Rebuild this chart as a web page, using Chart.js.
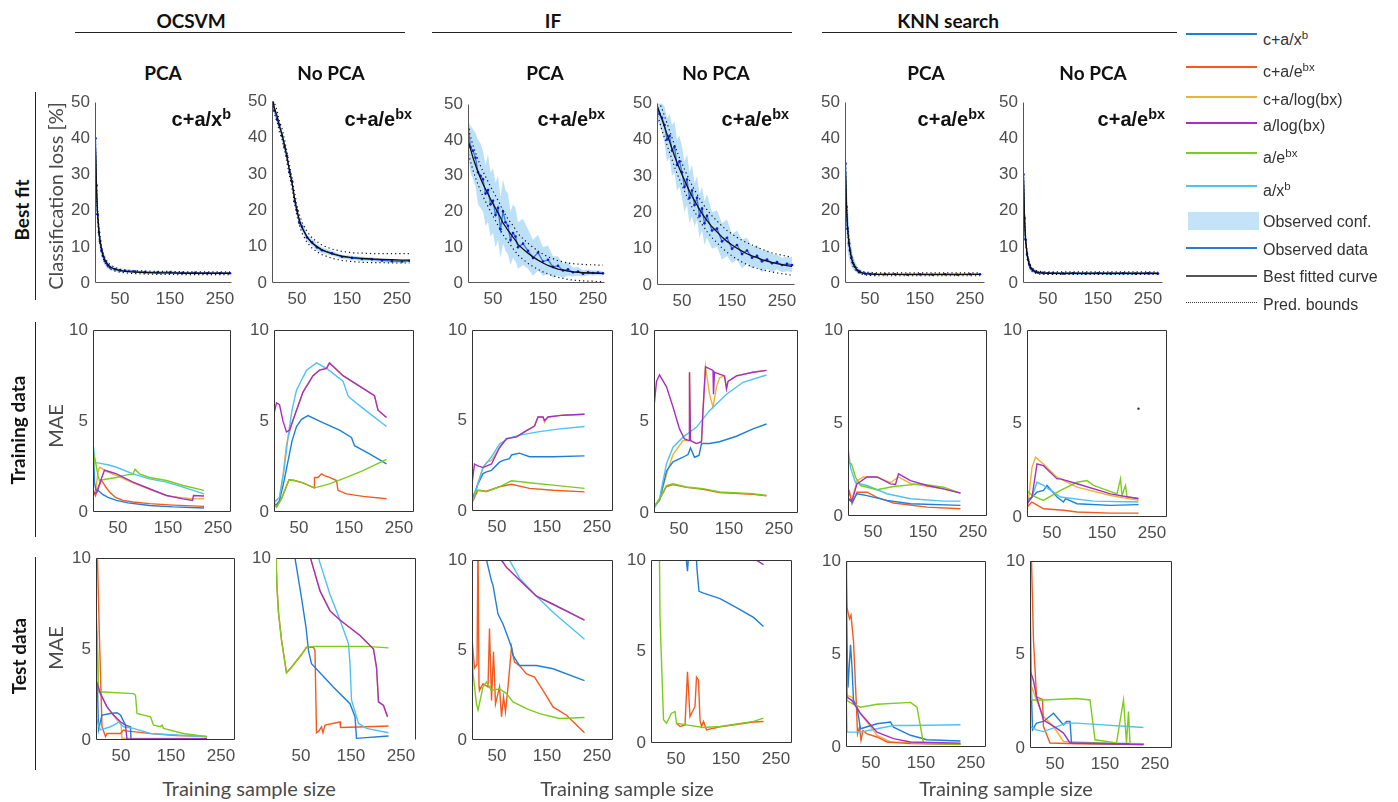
<!DOCTYPE html>
<html>
<head>
<meta charset="utf-8">
<script src="https://cdn.jsdelivr.net/npm/chart.js@4.4.1/dist/chart.umd.min.js"></script>
<style>
  body { margin: 0; background: #fff; }
  #stage { position: relative; width: 1398px; height: 802px; overflow: hidden; font-family: "Liberation Sans", Arial, sans-serif; }
  .t { position: absolute; white-space: nowrap; line-height: 1; }
  .hd { font-family: Lato, "Open Sans", sans-serif; font-weight: bold; font-size: 19px; color: #111; }
  .lab { font-family: Lato, "Open Sans", sans-serif; font-size: 20px; color: #4a4a4a; }
  .fx { font-weight: bold; font-size: 20px; color: #111; }
  .lg { font-size: 16px; color: #333; }
  sup { font-size: 0.72em; position: relative; top: -0.5em; vertical-align: 0; }
  canvas { position: absolute; }
  .rule { position: absolute; background: #222; }
</style>
</head>
<body>
<div id="stage"></div>
<script>
// ---------- series shared by every MAE panel ----------
const seriesLabels = ["c+a/x<sup>b</sup>", "c+a/e<sup>bx</sup>", "c+a/log(bx)", "a/log(bx)", "a/e<sup>bx</sup>", "a/x<sup>b</sup>"];
const seriesColors = ["#1f7fd6", "#f25a1f", "#f0b232", "#a431c4", "#7ccc1c", "#4fc2f2"];
const xTicks = [50, 150, 250];

// ---------- Best fit row: classification loss [%] ----------
const bfX1 = [1,3,5,8,10,13,16,20,25,30,40,50,60,80,100,125,150,175,200,225,250,270];
const bfX2 = [2,5,10,15,20,25,30,35,40,45,50,55,60,70,80,90,100,120,140,160,180,200,220,240,260,275];
const bfX3 = [1,5,10,15,20,25,30,35,40,45,50,55,60,65,70,75,80,85,90,95,100,110,120,130,140,150,160,170,180,190,200,210,220,230,240,250,260,270];

// OCSVM, PCA
const ocPcaObs = [40,27,19,14,11.5,9,7.5,6,5,4.3,3.8,3.5,3.4,3.2,3.0,2.9,2.9,2.8,2.8,2.7,2.7,2.7];
const ocPcaFit = [37,26,19.5,14,11.8,9.3,7.7,6.3,5.2,4.5,3.8,3.4,3.2,3.0,2.9,2.8,2.8,2.7,2.7,2.7,2.7,2.7];
const ocPcaConfLo = [36,22,15,11,9,7,6,4.8,4,3.5,3.2,3.0,2.9,2.8,2.6,2.5,2.5,2.5,2.4,2.4,2.4,2.4];
const ocPcaConfHi = [43,31,23,17,14,11,9,7.2,6,5.1,4.4,4.0,3.9,3.6,3.4,3.3,3.3,3.1,3.1,3.0,3.0,3.0];
const ocPcaPredLo = [35.5,24.5,18,12.8,10.7,8.4,6.9,5.6,4.6,3.9,3.3,3.0,2.8,2.6,2.5,2.4,2.4,2.3,2.3,2.3,2.3,2.3];
const ocPcaPredHi = [38.5,27.5,21,15.2,12.9,10.2,8.5,7.0,5.8,5.1,4.3,3.8,3.6,3.4,3.3,3.2,3.2,3.1,3.1,3.1,3.1,3.1];

// OCSVM, no PCA
const ocRawObs = [49.5,47.5,45,43.5,40.5,37.5,35,30.5,28,22.5,20,16.5,15.5,12.5,11.2,9.8,9.0,8.2,7.2,6.9,6.6,6.5,6.2,6.0,5.9,6.1];
const ocRawFit = [50,48,46,43,41,38,34.5,31,27.5,23.5,19.8,17.2,15.2,12.7,11,10,9.1,8.0,7.4,7.0,6.8,6.6,6.5,6.4,6.3,6.3];
const ocRawConfLo = [48.3,46.3,43.8,42.3,39.3,36.3,33.8,29.3,26.8,21.3,18.8,15.3,14.3,11.5,10.2,8.9,8.2,7.5,6.6,6.3,6.0,5.9,5.7,5.5,5.4,5.6];
const ocRawConfHi = [50.7,48.7,46.2,44.7,41.7,38.7,36.2,31.7,29.2,23.7,21.2,17.7,16.7,13.5,12.2,10.7,9.8,8.9,7.8,7.5,7.2,7.1,6.7,6.5,6.4,6.6];
const ocRawPredLo = [48.5,46.5,44.5,41.5,39.5,36.5,33,29.5,26,22,18.3,15.7,13.7,11.2,9.6,8.6,7.8,6.8,6.2,5.9,5.7,5.6,5.6,5.5,5.5,5.5];
const ocRawPredHi = [51.5,49.5,47.5,44.5,42.5,39.5,36,32.5,29,25,21.3,18.7,16.7,14.2,12.4,11.4,10.4,9.3,8.7,8.3,8.2,8.1,8.1,8.1,8.1,8.1];

// IF, PCA
const ifPcaObs = [43,38,37,35,31,30,29,25,26,22,23,19,21,15,20,17,16,12,14,13,10,11,9,7,8.5,6,6.5,4.5,4.8,3.5,3.8,3.0,3.2,2.6,3.0,2.8,2.9,2.7];
const ifPcaFit = [39.5,37.5,35,33,31,29.3,27.7,26.3,24.9,23.5,22.2,20.9,19.6,18.3,16.8,15.8,14.7,13.8,12.8,11.9,10.8,9.5,8.3,7.3,6.4,5.6,4.9,4.4,3.9,3.6,3.3,3.1,3.0,2.9,2.8,2.8,2.7,2.7];
const ifPcaConfLo = [36,31,29,27,22,21,20,16,17,13,14,10,12,7,11,9,8,5,7,6,4,5,4,2,3.5,2,2.5,1.5,2,1.5,2,1.8,2,1.8,2.2,2.1,2.2,2.1];
const ifPcaConfHi = [45,44,43,42,40,39,37,33,36,31,32,28,30,24,29,26,25,20,22,21,17,18,15,12,13.5,10,10.5,7.5,7.5,5.5,5.8,4.3,4.5,3.6,3.8,3.5,3.6,3.3];
const ifPcaPredLo = [36,34,31.5,29.5,27.5,25.8,24.2,22.8,21.4,20,18.7,17.4,16.1,14.8,13.5,12.5,11.5,10.6,9.6,8.8,7.8,6.6,5.5,4.6,3.8,3.1,2.5,2.0,1.6,1.3,1.0,0.8,0.7,0.6,0.5,0.5,0.4,0.4];
const ifPcaPredHi = [43,41,38.5,36.5,34.5,32.8,31.2,29.8,28.4,27,25.7,24.4,23.1,21.8,20.1,19.1,17.9,17,16,15,13.8,12.4,11.1,10,9,8.1,7.3,6.8,6.2,5.9,5.6,5.4,5.3,5.2,5.1,5.1,5.0,5.0];

// IF, no PCA
const ifRawObs = [48,47,46,44,40,41,37,38,33,34,31,27,29,24,26,22,24,19,21,17,19,15,15.5,12,13,10,11,8.5,9.5,7.5,8,6.5,7,6,6.3,5.5,5.8,5.5];
const ifRawFit = [49,47.5,45.5,43.5,41.5,39.5,37.5,35.5,33.7,32,30.4,28.8,27.3,25.8,24.4,23.2,22,20.8,19.7,18.7,17.7,16,14.6,13.2,12,11,10.1,9.3,8.6,8.0,7.5,7.0,6.6,6.2,5.9,5.6,5.3,5.1];
const ifRawConfLo = [45,44,42,39,34,35,30,31,26,27,24,20,22,17,19,16,18,13,15,11,13,10,10.5,7,8,6,7,4.5,6,4.5,5,3.5,4.5,3.5,4.3,3.5,3.8,3.5];
const ifRawConfHi = [50,50,50,49,46,47,44,45,40,41,38,34,36,31,33,28,30,25,27,23,25,20,20.5,17,18,14,15,12.5,13,10.5,11,9.5,9.5,8.5,8.3,7.5,7.8,7.5];
const ifRawPredLo = [46.5,45,42.5,40.5,38.5,36.5,34.5,32.5,30.7,29,27.4,25.8,24.3,22.8,21.4,20.2,19,17.8,16.7,15.7,14.7,13,11.6,10.2,9,8,7.1,6.3,5.6,5.0,4.6,4.2,3.9,3.6,3.3,3.1,2.9,2.7];
const ifRawPredHi = [51.5,50,48.5,46.5,44.5,42.5,40.5,38.5,36.7,35,33.4,31.8,30.3,28.8,27.4,26.2,25,23.8,22.7,21.7,20.7,19,17.6,16.2,15,14,13.1,12.3,11.6,11,10.4,9.8,9.3,8.8,8.5,8.2,7.9,7.6];

// KNN search, PCA
const knPcaObs = [33,21,15,11,9,7,5.5,4.5,3.5,3,2.6,2.5,2.4,2.4,2.4,2.3,2.4,2.3,2.4,2.3,2.4,2.4];
const knPcaFit = [31,21,15.5,11,9,6.8,5.4,4.3,3.5,3.0,2.6,2.5,2.4,2.4,2.4,2.4,2.4,2.4,2.4,2.4,2.4,2.4];
const knPcaConfLo = [24,13,9,6.5,5.5,4.5,3.8,3.2,2.7,2.4,2.2,2.1,2.1,2.1,2.1,2.0,2.1,2.0,2.1,2.0,2.1,2.1];
const knPcaConfHi = [40,30,23,16,13,10,7.5,6,4.5,3.7,3.1,2.9,2.8,2.7,2.7,2.6,2.7,2.6,2.7,2.6,2.7,2.7];
const knPcaPredLo = [29,19.5,14.3,10,8.1,6,4.7,3.7,3.0,2.6,2.2,2.1,2.0,2.0,2.0,2.0,2.0,2.0,2.0,2.0,2.0,2.0];
const knPcaPredHi = [33,22.5,16.7,12,9.9,7.6,6.1,4.9,4.0,3.4,3.0,2.9,2.8,2.8,2.8,2.8,2.8,2.8,2.8,2.8,2.8,2.8];

// KNN search, no PCA
const knRawObs = [30,18,12,8,6.5,5,4,3.5,3.1,2.9,2.8,2.7,2.7,2.6,2.7,2.6,2.7,2.6,2.7,2.6,2.7,2.6];
const knRawFit = [29,18,12.2,8.3,6.6,5,4.1,3.5,3.1,2.9,2.75,2.7,2.7,2.7,2.7,2.7,2.7,2.7,2.7,2.7,2.7,2.7];
const knRawConfLo = [26,15,9.5,6,5,3.8,3,2.7,2.5,2.4,2.4,2.4,2.4,2.3,2.4,2.3,2.4,2.3,2.4,2.3,2.4,2.3];
const knRawConfHi = [34,21,14.5,10,8,6.2,5,4.3,3.7,3.4,3.2,3.0,3.0,2.9,3.0,2.9,3.0,2.9,3.0,2.9,3.0,2.9];
const knRawPredLo = [27.5,17,11.3,7.5,5.9,4.4,3.6,3.0,2.7,2.5,2.4,2.35,2.35,2.35,2.35,2.35,2.35,2.35,2.35,2.35,2.35,2.35];
const knRawPredHi = [30.5,19,13.1,9.1,7.3,5.6,4.6,4.0,3.5,3.3,3.1,3.05,3.05,3.05,3.05,3.05,3.05,3.05,3.05,3.05,3.05,3.05];

// ---------- Training data row: MAE, [x, y] pairs, series in legend order ----------
const trainOcPca = [
  [[1,3.2],[3,1.6],[6,1.2],[10,1.2],[20,0.95],[30,0.8],[47,0.64],[70,0.5],[113,0.36],[160,0.28],[222,0.22]],
  [[1,1.2],[5,0.9],[10,1.3],[17,1.75],[25,1.4],[33,1.1],[45,0.8],[60,0.64],[80,0.55],[113,0.46],[160,0.38],[222,0.31]],
  [[1,0.9],[5,1.1],[10,2.2],[13,2.46],[18,2.4],[25,2.25],[47,2.0],[80,1.6],[113,1.25],[147,0.9],[180,0.78],[200,0.72],[222,0.73]],
  [[1,1.0],[8,1.1],[15,1.7],[23,2.3],[35,2.2],[47,2.1],[80,1.64],[113,1.28],[147,0.91],[180,0.72],[199,0.64],[201,0.91],[222,0.88]],
  [[1,2.4],[3,3.0],[6,2.6],[10,2.0],[13,1.73],[25,1.8],[47,1.9],[60,2.0],[80,2.1],[84,2.35],[93,2.1],[113,1.9],[147,1.73],[180,1.46],[222,1.19]],
  [[1,3.6],[3,3.0],[5,2.7],[10,2.7],[20,2.65],[30,2.6],[47,2.46],[80,2.1],[113,1.82],[147,1.64],[180,1.37],[222,1.0]]
];
const trainOcRaw = [
  [[0,0.45],[5,0.4],[11,0.64],[20,1.7],[28,2.8],[36,3.9],[45,4.7],[55,5.1],[68,5.3],[91,5.0],[131,4.5],[155,4.1],[161,3.65],[191,3.2],[225,2.65]],
  [[0,0.45],[5,0.27],[15,0.73],[30,1.77],[41,1.73],[58,1.6],[80,1.33],[81,1.9],[88,1.9],[95,2.1],[101,2.0],[111,1.9],[125,1.73],[128,1.19],[145,1.0],[178,0.86],[225,0.73]],
  [[0,0.5],[11,0.8],[18,2.0],[25,3.7],[35,4.8],[45,5.6],[58,6.6],[78,7.5],[91,7.8],[105,7.9],[111,8.2],[138,7.5],[178,6.8],[201,6.4],[208,5.6],[225,5.2]],
  [[0,5.4],[5,6.0],[11,5.9],[18,5.0],[25,4.4],[31,4.5],[45,5.6],[58,6.6],[78,7.5],[91,7.8],[105,7.9],[111,8.2],[138,7.5],[178,6.8],[201,6.4],[208,5.6],[225,5.2]],
  [[0,0.45],[5,0.27],[15,0.73],[30,1.77],[41,1.73],[58,1.6],[81,1.33],[111,1.55],[145,1.9],[178,2.28],[225,2.9]],
  [[0,0.55],[11,0.8],[20,2.3],[28,4.1],[36,5.6],[45,6.7],[65,7.8],[85,8.2],[105,7.9],[138,7.2],[148,6.4],[151,6.3],[178,5.7],[225,4.7]]
];
const trainIfPca = [
  [[0,0.6],[12,1.5],[22,2.07],[29,2.16],[39,2.25],[55,2.7],[62,2.8],[75,2.9],[79,3.1],[95,3.2],[115,3.0],[162,3.0],[225,3.05]],
  [[0,0.5],[12,1.15],[29,1.1],[55,1.34],[79,1.48],[115,1.25],[162,1.15],[225,1.06]],
  [[0,0.5],[5,0.7],[12,1.6],[22,2.4],[30,2.7],[39,2.8],[55,3.5],[69,4.0],[89,4.1],[109,4.45],[125,4.7],[132,5.2],[142,5.2],[145,4.9],[152,5.2],[182,5.3],[225,5.35]],
  [[0,1.5],[5,2.6],[12,2.5],[22,2.4],[39,2.6],[55,3.5],[69,4.0],[89,4.1],[109,4.45],[125,4.7],[132,5.2],[142,5.2],[145,5.0],[152,5.2],[182,5.3],[225,5.35]],
  [[0,0.88],[12,1.15],[29,1.06],[55,1.34],[79,1.67],[115,1.56],[162,1.43],[225,1.25]],
  [[0,0.42],[12,1.5],[22,2.4],[39,3.0],[55,3.7],[72,4.0],[95,4.2],[129,4.36],[175,4.54],[225,4.67]]
];
const trainIfRaw = [
  [[0,0.33],[11,0.7],[25,2.3],[38,2.8],[58,3.05],[68,3.2],[73,3.56],[81,3.05],[90,3.15],[95,3.8],[111,3.8],[131,3.9],[165,4.2],[198,4.6],[225,4.87]],
  [[0,0.33],[11,0.75],[25,1.45],[38,1.55],[65,1.4],[98,1.3],[131,1.12],[198,1.02],[225,0.94]],
  [[0,0.33],[11,0.7],[25,2.1],[38,3.2],[58,3.96],[70,3.96],[71,7.7],[73,3.96],[85,3.8],[95,3.9],[98,5.6],[103,8.0],[111,6.5],[118,5.8],[125,6.9],[131,7.4],[141,7.5],[145,6.8],[148,7.2],[165,7.5],[198,7.7],[225,7.8]],
  [[0,5.8],[5,7.2],[11,7.56],[25,6.9],[38,5.8],[51,4.6],[61,4.05],[70,3.96],[71,7.7],[73,3.96],[85,3.8],[95,3.9],[98,5.6],[103,8.0],[118,7.8],[119,6.5],[121,7.7],[141,7.5],[145,6.8],[148,7.2],[165,7.5],[198,7.7],[225,7.8]],
  [[0,0.33],[11,0.78],[25,1.5],[38,1.6],[65,1.42],[98,1.33],[131,1.15],[198,1.05],[225,0.96]],
  [[0,0.24],[11,0.78],[25,2.7],[38,3.6],[58,4.15],[85,4.7],[111,5.6],[145,6.5],[178,7.15],[225,7.55]]
];
const trainKnPca = [
  [[0,0.93],[8,0.75],[18,1.2],[38,1.1],[78,0.84],[125,0.66],[225,0.57]],
  [[0,1.0],[3,1.3],[8,0.66],[18,1.28],[38,1.28],[58,1.0],[91,0.7],[158,0.48],[225,0.39]],
  [[0,0.84],[8,0.84],[18,1.9],[31,2.1],[58,2.1],[85,1.8],[101,2.1],[125,1.75],[158,1.6],[191,1.46],[225,1.23]],
  [[0,0.93],[8,0.84],[18,1.73],[38,2.1],[58,2.1],[85,1.73],[95,1.7],[101,2.27],[125,1.9],[158,1.64],[191,1.46],[225,1.23]],
  [[0,2.9],[7,2.8],[15,2.1],[25,1.64],[58,1.41],[91,1.59],[145,1.73],[191,1.55],[225,1.23]],
  [[0,3.7],[5,2.6],[15,1.8],[38,1.64],[78,1.2],[125,0.93],[191,0.8],[225,0.8]]
];
const trainKnRaw = [
  [[0,0.89],[10,1.07],[20,1.33],[33,1.42],[40,1.69],[60,1.07],[73,0.8],[77,0.98],[100,0.71],[167,0.62],[223,0.66]],
  [[0,0.53],[10,0.8],[33,0.44],[73,0.36],[100,0.27],[167,0.21],[223,0.21]],
  [[0,0.18],[10,2.66],[17,3.2],[33,2.84],[60,2.13],[100,1.6],[167,1.15],[223,0.89]],
  [[0,0.71],[10,1.07],[20,2.84],[33,2.75],[60,2.04],[67,2.04],[100,1.78],[167,1.24],[223,0.98]],
  [[0,1.42],[10,1.15],[33,0.89],[67,1.42],[100,1.86],[120,1.95],[133,1.69],[180,1.24],[187,2.04],[190,1.15],[197,1.69],[200,1.07],[223,1.01]],
  [[0,0.8],[10,1.07],[20,1.86],[33,1.69],[67,1.07],[133,0.85],[223,0.8]]
];
const trainKnRawStray = [[223, 5.8]]; // lone black point in that panel

// ---------- Test data row: MAE ----------
const testOcPca = [
  [[0,3.3],[3,2.9],[5,0.55],[12,1.37],[29,1.46],[42,1.5],[49,1.37],[59,0.82],[69,0.73],[70,0.04],[222,0.04]],
  [[0,10],[3,9.9],[7,5.5],[12,0.73],[19,0.18],[22,0.36],[35,0.36],[49,0.36],[55,0.55],[60,0.5],[110,0.35],[160,0.25],[222,0.2]],
  [[0,7.3],[2,6.2],[5,2.74],[22,1.82],[42,1.1],[50,0.9],[52,0.09],[222,0.09]],
  [[0,3.3],[9,2.55],[22,1.82],[35,1.37],[49,1.0],[59,0.82],[62,0.04],[222,0.07]],
  [[0,5.5],[2,6.0],[5,2.65],[75,2.55],[79,2.46],[82,1.46],[109,1.28],[115,0.82],[129,0.73],[132,0.82],[135,0.64],[175,0.36],[222,0.18]],
  [[0,1.28],[5,0.82],[9,0.55],[29,0.73],[42,0.91],[45,1.0],[55,0.73],[75,0.64],[109,0.36],[222,0.18]]
];
const testOcRaw = [
  [[20,14],[38,10],[50,8.0],[60,6.2],[65,4.9],[71,4.2],[115,2.9],[148,2.0],[158,1.28],[161,0.09],[225,0.22]],
  [[0,10],[2,8.4],[5,7.0],[11,5.5],[21,3.7],[31,4.0],[51,4.7],[61,5.1],[75,5.1],[78,4.9],[81,0.4],[86,0.5],[91,0.73],[94,0.4],[98,0.82],[121,0.95],[128,1.0],[129,0.69],[181,0.73],[225,0.77]],
  [[50,14],[69,10],[88,8.2],[108,7.1],[128,6.6],[168,5.75],[195,5.0],[201,4.0],[205,2.1],[215,1.9],[223,1.28]],
  [[50,14],[69,10],[88,8.2],[108,7.1],[128,6.6],[168,5.75],[195,5.0],[201,4.0],[205,2.1],[215,1.9],[223,1.28]],
  [[0,10],[2,8.4],[5,7.0],[11,5.5],[21,3.7],[31,4.0],[51,4.7],[61,5.1],[75,5.15],[115,5.15],[181,5.15],[225,5.07]],
  [[70,14],[85,10],[108,8.0],[128,6.6],[145,5.3],[148,4.2],[151,2.2],[165,0.91],[181,0.64],[225,0.4]]
];
const testIfPca = [
  [[20,13],[29,10],[39,8.84],[42,8.6],[52,7.0],[62,6.45],[72,5.7],[79,5.16],[82,4.7],[95,4.14],[129,4.14],[162,3.96],[225,3.3]],
  [[0,5.6],[5,4.0],[10,4.2],[12,11],[13,11],[14,3.0],[15,2.76],[22,3.13],[32,2.95],[35,6.2],[39,2.2],[43,4.9],[47,2.0],[55,2.95],[59,1.29],[63,2.4],[67,1.57],[72,2.95],[79,5.16],[85,4.33],[95,4.14],[109,3.68],[125,3.5],[142,2.76],[162,1.84],[189,1.38],[209,0.83],[225,0.4]],
  [[50,12],[59,10],[69,9.6],[95,8.9],[129,8.0],[162,7.55],[225,6.67]],
  [[50,12],[59,10],[69,9.6],[95,8.9],[129,8.0],[162,7.55],[225,6.67]],
  [[0,5.7],[2,3.7],[9,2.0],[12,1.66],[22,2.95],[29,3.22],[39,2.76],[55,2.85],[69,2.58],[82,2.12],[109,1.75],[135,1.47],[175,1.2],[225,1.25]],
  [[60,12],[75,10],[95,9.0],[129,8.0],[162,7.1],[225,5.6]]
];
const testIfRaw = [
  [[60,12],[70,10.5],[71,9.9],[73,9.4],[75,10.2],[90,10.5],[92,9.5],[96,8.3],[105,8.2],[138,7.9],[171,7.4],[205,6.87],[225,6.37]],
  [[51,1.08],[58,0.9],[68,0.99],[73,3.9],[78,1.45],[88,2.0],[91,3.6],[95,3.44],[98,1.27],[101,0.9],[105,1.18],[111,0.72],[125,0.81],[138,0.88],[205,1.15],[225,1.18]],
  [[0,16],[100,14],[225,12]],
  [[0,10.2],[50,11.5],[150,11],[200,10.4],[211,10],[225,9.76]],
  [[15,12],[17,10],[18,6.9],[25,1.27],[31,1.08],[41,1.63],[48,1.72],[51,1.08],[71,0.99],[105,0.85],[138,0.9],[205,1.18],[225,1.36]],
  [[0,16],[225,13]]
];
const testKnPca = [
  [[0,8.75],[2,5.7],[4,3.2],[9,5.5],[12,4.3],[15,2.5],[22,2.14],[29,0.98],[62,1.25],[89,1.34],[95,1.07],[129,0.63],[162,0.39],[229,0.32]],
  [[0,10],[2,7.5],[7,6.9],[10,7.1],[15,5.7],[21,2.1],[23,0.7],[27,1.07],[30,0.36],[34,0.89],[42,0.71],[62,0.54],[82,0.27],[129,0.18],[229,0.14]],
  [[0,4.8],[2,2.77],[12,2.68],[29,1.8],[62,0.63],[89,0.27],[229,0.18]],
  [[0,10],[1,3.0],[2,2.68],[12,2.5],[29,1.8],[62,0.8],[95,0.45],[129,0.27],[229,0.21]],
  [[0,7.5],[2,2.5],[15,2.3],[29,2.14],[62,2.3],[129,2.4],[142,2.14],[155,0.18],[229,0.14]],
  [[0,3.4],[2,0.8],[29,0.8],[62,0.98],[95,1.16],[129,1.16],[229,1.2]]
];
const testKnRaw = [
  [[0,5.75],[5,0.97],[13,1.33],[27,1.42],[47,1.86],[67,1.24],[73,1.42],[80,1.42],[83,0.27],[227,0.23]],
  [[0,10],[3,10],[7,5.75],[13,2.74],[25,2.6],[27,1.15],[40,0.27],[93,0.23],[227,0.18]],
  [[0,9.1],[3,3.3],[13,2.57],[27,1.68],[47,1.15],[67,0.35],[227,0.18]],
  [[0,4.16],[7,3.6],[13,2.74],[27,1.5],[53,1.06],[67,0.8],[80,0.27],[227,0.18]],
  [[0,7.5],[3,2.57],[27,2.57],[93,2.65],[120,2.57],[130,0.44],[173,0.27],[187,2.57],[193,0.27],[197,1.95],[200,0.23],[227,0.23]],
  [[0,1.15],[13,0.97],[27,0.88],[73,1.33],[93,1.33],[227,1.1]]
];

// ---------- layout (plot area left, top, width, height in px) ----------
const bestBoxes = [[95,101,137,182],[272,100,138,183],[468,103,137,180],[657,102,138,183],[845,101,140,182],[1023,101,140,182]];
const trainBoxes = [[93,329,138,183],[274,329,140,183],[472,329,141,182],[654,329,144,184],[848,329,139,187],[1027,329,140,188]];
const testBoxes = [[96,557,139,183],[276,557,140,183],[472,559,141,181],[651,559,141,184],[846,560,140,187],[1030,560,142,188]];
const PAD_L = 46, PAD_T = 14, PAD_R = 24, PAD_B = 34;

const stage = document.getElementById("stage");

// frame lines around the plot area (MATLAB box)
const framePlugin = {
  id: "frame",
  afterDatasetsDraw(chart, args, opts) {
    const { ctx, chartArea: a } = chart;
    const l = Math.round(a.left) + 0.5, r = Math.round(a.right) - 0.5;
    const t = Math.round(a.top) + 0.5, b = Math.round(a.bottom) - 0.5;
    const s = opts.sides || "";
    ctx.save();
    ctx.strokeStyle = opts.color || "#333";
    ctx.lineWidth = 1;
    ctx.beginPath();
    if (s.includes("t")) { ctx.moveTo(l, t); ctx.lineTo(r, t); }
    if (s.includes("r")) { ctx.moveTo(r, t); ctx.lineTo(r, b); }
    if (s.includes("b")) { ctx.moveTo(l, b); ctx.lineTo(r, b); }
    if (s.includes("l")) { ctx.moveTo(l, t); ctx.lineTo(l, b); }
    ctx.stroke();
    ctx.restore();
  }
};

function makePanel(box, datasets, yMax, yStep, sides, frameColor, yLabel) {
  const [l, t, w, h] = box;
  const cv = document.createElement("canvas");
  cv.width = w + PAD_L + PAD_R;
  cv.height = h + PAD_T + PAD_B;
  cv.style.left = (l - PAD_L) + "px";
  cv.style.top = (t - PAD_T) + "px";
  stage.appendChild(cv);
  const tickFont = { family: "'Liberation Sans', Arial, sans-serif", size: 17 };
  new Chart(cv, {
    type: "line",
    data: { datasets },
    plugins: [framePlugin],
    options: {
      responsive: false,
      animation: false,
      events: [],
      layout: { padding: { top: PAD_T, right: PAD_R, left: 0, bottom: 0 } },
      plugins: {
        legend: { display: false },
        tooltip: { enabled: false },
        frame: { sides, color: frameColor }
      },
      elements: { line: { tension: 0 } },
      scales: {
        x: {
          type: "linear", min: 0, max: w * 2,
          grid: { display: false, drawTicks: false },
          border: { display: false },
          ticks: { color: "#4d4d4d", font: tickFont, padding: 6, autoSkip: false, maxRotation: 0 },
          afterBuildTicks: (ax) => { ax.ticks = xTicks.map(v => ({ value: v })); },
          afterFit: (ax) => { ax.height = PAD_B; }
        },
        y: {
          type: "linear", min: 0, max: yMax,
          grid: { display: false, drawTicks: false },
          border: { display: false },
          ticks: { stepSize: yStep, color: "#4d4d4d", font: tickFont, padding: 5,
                   callback: yLabel || ((v) => String(v)) },
          afterFit: (ax) => { ax.width = PAD_L; }
        }
      }
    }
  });
}

// best-fit panel: prediction bounds, fitted curve, observed data, confidence band
function bestFitSets(xs, obs, fit, lo, hi, pLo, pHi) {
  const z = (ys) => xs.map((x, i) => ({ x, y: ys[i] }));
  const dotted = { borderColor: "#111", borderWidth: 1.2, borderDash: [1.2, 3], pointRadius: 0, fill: false };
  return [
    Object.assign({ data: z(pHi) }, dotted),
    Object.assign({ data: z(pLo) }, dotted),
    { data: z(fit), borderColor: "#111", borderWidth: 1.3, pointRadius: 0, fill: false },
    { data: z(obs), borderColor: "#3578e6", borderWidth: 1.3, pointRadius: 1.3, pointBorderWidth: 0,
      pointBackgroundColor: "#1414ef", fill: false },
    { data: z(hi), borderColor: "transparent", borderWidth: 0, pointRadius: 0,
      backgroundColor: "rgba(172,216,247,0.8)", fill: "+1" },
    { data: z(lo), borderColor: "transparent", borderWidth: 0, pointRadius: 0, fill: false }
  ];
}

// MAE panel; first dataset is drawn on top in Chart.js
const drawRank = [3, 4, 5, 0, 1, 2];
function maeSets(series, stray) {
  const sets = drawRank.map(i => ({
    data: series[i].map(([x, y]) => ({ x, y })),
    borderColor: seriesColors[i], borderWidth: 1.4, pointRadius: 0, fill: false
  }));
  if (stray) {
    sets.unshift({ data: stray.map(([x, y]) => ({ x, y })), showLine: false,
      pointRadius: 1.2, pointBorderWidth: 0, pointBackgroundColor: "#333" });
  }
  return sets;
}

const bestSets = [
  bestFitSets(bfX1, ocPcaObs, ocPcaFit, ocPcaConfLo, ocPcaConfHi, ocPcaPredLo, ocPcaPredHi),
  bestFitSets(bfX2, ocRawObs, ocRawFit, ocRawConfLo, ocRawConfHi, ocRawPredLo, ocRawPredHi),
  bestFitSets(bfX3, ifPcaObs, ifPcaFit, ifPcaConfLo, ifPcaConfHi, ifPcaPredLo, ifPcaPredHi),
  bestFitSets(bfX3, ifRawObs, ifRawFit, ifRawConfLo, ifRawConfHi, ifRawPredLo, ifRawPredHi),
  bestFitSets(bfX1, knPcaObs, knPcaFit, knPcaConfLo, knPcaConfHi, knPcaPredLo, knPcaPredHi),
  bestFitSets(bfX1, knRawObs, knRawFit, knRawConfLo, knRawConfHi, knRawPredLo, knRawPredHi)
];
const trainSeries = [trainOcPca, trainOcRaw, trainIfPca, trainIfRaw, trainKnPca, trainKnRaw];
const testSeries = [testOcPca, testOcRaw, testIfPca, testIfRaw, testKnPca, testKnRaw];

bestBoxes.forEach((b, i) => makePanel(b, bestSets[i], 50, 10, "lb", "#555"));
trainBoxes.forEach((b, i) => makePanel(b, maeSets(trainSeries[i], i === 5 ? trainKnRawStray : null), 10, 5, "tlbr", "#333"));
testBoxes.forEach((b, i) => {
  const hidden = i === 1; // this panel lost its left/bottom axis lines
  makePanel(b, maeSets(testSeries[i]), 10, 5, hidden ? "tr" : "tlbr", "#333",
    hidden ? (v) => (v === 10 ? "10" : "") : null);
});

// ---------- text ----------
function addText(html, x, y, cls, rotate, anchor) {
  const d = document.createElement("div");
  d.className = "t " + cls;
  d.innerHTML = html;
  d.style.left = x + "px";
  d.style.top = y + "px";
  const tx = anchor === "right" ? "-100%" : "-50%";
  d.style.transform = `translate(${tx}, -50%)` + (rotate ? " rotate(-90deg)" : "");
  stage.appendChild(d);
}
function addRule(x, y, w, h) {
  const d = document.createElement("div");
  d.className = "rule";
  Object.assign(d.style, { left: x + "px", top: y + "px", width: w + "px", height: h + "px" });
  stage.appendChild(d);
}

const groupNames = ["OCSVM", "IF", "KNN search"];
const groupCenters = [191, 553, 948];
const groupRules = [[75, 405], [432, 792], [822, 1177]];
groupNames.forEach((g, i) => {
  addText(g, groupCenters[i], 20, "hd");
  addRule(groupRules[i][0], 32, groupRules[i][1] - groupRules[i][0], 1.3);
});

const subNames = ["PCA", "No PCA", "PCA", "No PCA", "PCA", "No PCA"];
const subCenters = [163, 331, 545, 716, 926, 1093];
subNames.forEach((s, i) => addText(s, subCenters[i], 72, "hd"));

const fitLabels = ["c+a/x<sup>b</sup>", "c+a/e<sup>bx</sup>", "c+a/e<sup>bx</sup>", "c+a/e<sup>bx</sup>", "c+a/e<sup>bx</sup>", "c+a/e<sup>bx</sup>"];
const fitLabelRight = [231, 412, 605, 789, 985, 1165];
fitLabels.forEach((f, i) => addText(f, fitLabelRight[i], 119, "fx", false, "right"));

addText("Best fit", 21, 210, "hd", true);
addText("Training data", 17, 430, "hd", true);
addText("Test data", 18, 656, "hd", true);
addRule(35, 92, 1.3, 208);
addRule(35, 322, 1.3, 215);
addRule(35, 557, 1.3, 213);

addText("Classification loss [%]", 55, 196, "lab", true);
addText("MAE", 55, 426, "lab", true);
addText("MAE", 55, 648, "lab", true);

[249, 627, 1006].forEach(x => addText("Training sample size", x, 788, "lab"));

// ---------- legend ----------
const legendY = [34, 67, 97, 123, 153, 186];
const legendTextY = [40, 72, 100, 126, 158, 191];
seriesLabels.forEach((s, i) => {
  addRule(1186, legendY[i] - 1, 71, 2);
  stage.lastChild.style.background = seriesColors[i];
  addText(s, 1263, legendTextY[i], "lg", false);
  stage.lastChild.style.transform = "translate(0, -50%)";
});
const patch = document.createElement("div");
Object.assign(patch.style, { position: "absolute", left: "1188px", top: "212px", width: "71px", height: "18px", background: "#c4e2f8" });
stage.appendChild(patch);
const extraLabels = ["Observed conf.", "Observed data", "Best fitted curve", "Pred. bounds"];
const extraY = [222, 250, 277, 305];
extraLabels.forEach((s, i) => {
  addText(s, 1263, extraY[i], "lg", false);
  stage.lastChild.style.transform = "translate(0, -50%)";
});
addRule(1186, 247, 71, 2); stage.lastChild.style.background = "#2a7ad6";
addRule(1186, 275, 71, 1.5); stage.lastChild.style.background = "#555";
const dots = document.createElement("div");
Object.assign(dots.style, { position: "absolute", left: "1186px", top: "302px", width: "71px", height: "0", borderTop: "1.5px dotted #333" });
stage.appendChild(dots);
</script>
</body>
</html>
